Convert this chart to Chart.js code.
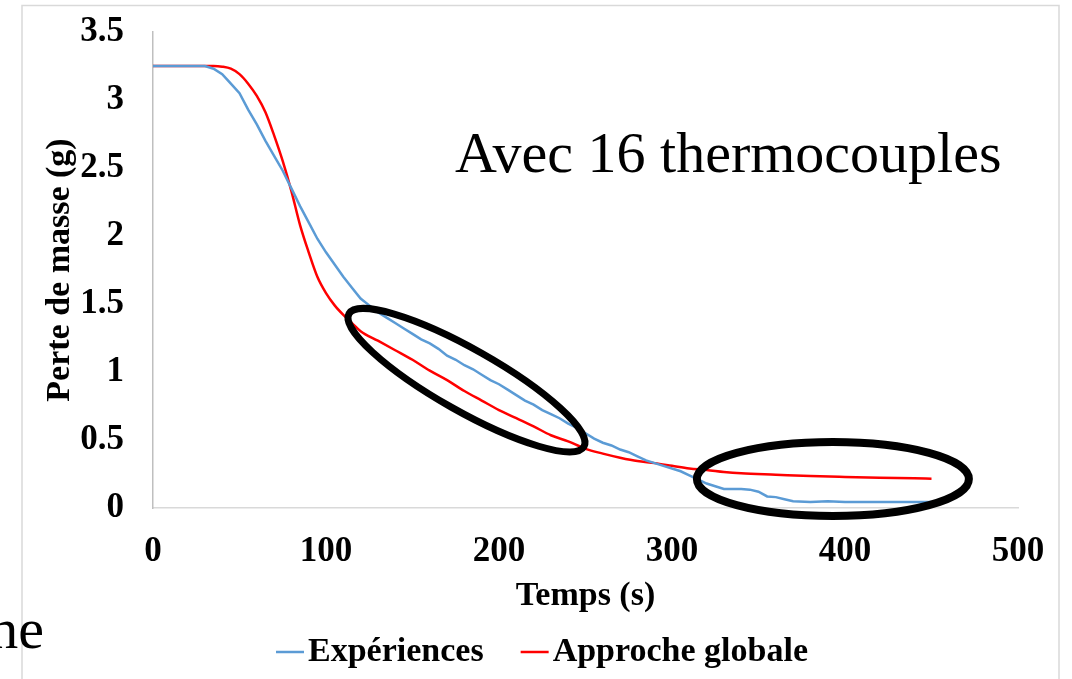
<!DOCTYPE html>
<html lang="fr">
<head>
<meta charset="utf-8">
<title>Perte de masse</title>
<script src="https://cdn.jsdelivr.net/npm/chart.js@4.4.1/dist/chart.umd.min.js"></script>
<style>
  html, body { margin: 0; padding: 0; background: #fff; }
  #wrap { position: relative; width: 1072px; height: 679px; }
</style>
</head>
<body>
<div id="wrap"><canvas id="lossChart"></canvas></div>
<script>
// Expériences : perte de masse mesurée (g) en fonction du temps (s)
const expTime = [0, 30, 35, 40, 45, 50, 55, 60, 65, 70, 75, 80, 85, 90, 95, 100, 105, 110, 115, 120,
  125, 130, 135, 140, 145, 150, 155, 160, 165, 170, 175, 180, 185, 190, 195, 200, 205, 210, 215, 220,
  225, 230, 235, 240, 245, 250, 255, 260, 265, 270, 275, 280, 285, 290, 295, 300, 305, 310, 315, 320,
  325, 330, 335, 340, 345, 350, 355, 360, 365, 370, 380, 390, 400, 420, 440, 450];
const expLoss = [3.25, 3.25, 3.23, 3.19, 3.12, 3.05, 2.93, 2.82, 2.70, 2.59, 2.48, 2.35, 2.22, 2.10, 1.98, 1.88, 1.79, 1.70, 1.62, 1.54,
  1.49, 1.44, 1.40, 1.36, 1.32, 1.28, 1.24, 1.21, 1.17, 1.12, 1.09, 1.05, 1.02, 0.98, 0.94, 0.91, 0.87, 0.83, 0.79, 0.76,
  0.72, 0.69, 0.66, 0.62, 0.59, 0.55, 0.51, 0.48, 0.46, 0.43, 0.41, 0.38, 0.35, 0.33, 0.31, 0.29, 0.27, 0.24, 0.21, 0.18,
  0.16, 0.14, 0.14, 0.14, 0.135, 0.12, 0.085, 0.08, 0.065, 0.05, 0.045, 0.05, 0.045, 0.045, 0.045, 0.045];

// Approche globale : perte de masse calculée
const modelTime = [0, 20, 35, 40, 45, 50, 55, 60, 65, 70, 75, 80, 85, 90, 95, 100, 105, 110, 115, 120,
  130, 140, 150, 160, 170, 180, 190, 200, 210, 220, 230, 240, 250, 260, 270, 280, 290, 300, 310, 320,
  330, 340, 360, 380, 400, 420, 440, 450];
const modelLoss = [3.25, 3.25, 3.25, 3.245, 3.23, 3.19, 3.12, 3.03, 2.91, 2.74, 2.55, 2.33, 2.08, 1.88, 1.70, 1.58, 1.49, 1.42, 1.36, 1.30,
  1.23, 1.16, 1.09, 1.01, 0.94, 0.86, 0.79, 0.72, 0.66, 0.60, 0.535, 0.49, 0.435, 0.40, 0.37, 0.345, 0.33, 0.31, 0.29, 0.28,
  0.265, 0.255, 0.245, 0.235, 0.228, 0.222, 0.218, 0.215];

const seriesLabels = ['Expériences', 'Approche globale'];
const seriesColors = ['#5b9bd5', '#ff0000'];

const serif = '"Liberation Serif", "Times New Roman", serif';

function toPoints(xs, ys) {
  return xs.map((x, i) => ({ x: x, y: ys[i] }));
}

// fond blanc + cadre gris clair autour du graphique
const framePlugin = {
  id: 'frame',
  beforeDraw(chart) {
    const ctx = chart.ctx;
    ctx.save();
    ctx.fillStyle = '#fff';
    ctx.fillRect(0, 0, chart.width, chart.height);
    ctx.strokeStyle = '#d9d9d9';
    ctx.lineWidth = 1.5;
    ctx.strokeRect(22, 5.5, 1037, 700);
    ctx.restore();
  }
};

// ellipses noires qui entourent les zones d'écart (centre en coordonnées des données)
const ellipsePlugin = {
  id: 'ellipses',
  afterDatasetsDraw(chart, args, opts) {
    const ctx = chart.ctx;
    const xs = chart.scales.x, ys = chart.scales.y;
    ctx.save();
    ctx.strokeStyle = '#000';
    opts.items.forEach(e => {
      ctx.lineWidth = e.width;
      ctx.beginPath();
      ctx.ellipse(xs.getPixelForValue(e.t), ys.getPixelForValue(e.v), e.rx, e.ry, e.angle * Math.PI / 180, 0, Math.PI * 2);
      ctx.stroke();
    });
    ctx.restore();
  }
};

// textes libres : titre dans le graphique et morceau de texte de la diapo
const notesPlugin = {
  id: 'notes',
  afterDraw(chart) {
    const ctx = chart.ctx;
    ctx.save();
    ctx.fillStyle = '#000';
    ctx.font = '58px ' + serif;
    ctx.textBaseline = 'alphabetic';
    ctx.textAlign = 'left';
    ctx.fillText('Avec 16 thermocouples', 455, 172);
    ctx.textAlign = 'right';
    ctx.fillText('ne', 44, 648);
    ctx.restore();
  }
};

// légende en bas, trait court collé au texte
const legendPlugin = {
  id: 'bottomLegend',
  afterDraw(chart) {
    const ctx = chart.ctx;
    const lineLen = 28, gap = 4, itemGap = 37, y = 652;
    ctx.save();
    ctx.font = 'bold 34px ' + serif;
    const items = chart.data.datasets.map(ds => ({ text: ds.label, color: ds.borderColor, w: ctx.measureText(ds.label).width }));
    const total = items.reduce((s, it) => s + lineLen + gap + it.w, 0) + itemGap * (items.length - 1);
    let x = 542 - total / 2;
    items.forEach(it => {
      ctx.strokeStyle = it.color;
      ctx.lineWidth = 2.5;
      ctx.beginPath();
      ctx.moveTo(x, y);
      ctx.lineTo(x + lineLen, y);
      ctx.stroke();
      x += lineLen + gap;
      ctx.fillStyle = '#000';
      ctx.textBaseline = 'middle';
      ctx.textAlign = 'left';
      ctx.fillText(it.text, x, y);
      x += it.w + itemGap;
    });
    ctx.restore();
  }
};

const ctx = document.getElementById('lossChart');

new Chart(ctx, {
  type: 'line',
  data: {
    datasets: [{
      label: seriesLabels[0],
      data: toPoints(expTime, expLoss),
      borderColor: seriesColors[0],
      borderWidth: 2.5,
      pointRadius: 0,
      tension: 0,
      fill: false
    },
    {
      label: seriesLabels[1],
      data: toPoints(modelTime, modelLoss),
      borderColor: seriesColors[1],
      borderWidth: 2.5,
      pointRadius: 0,
      cubicInterpolationMode: 'monotone',
      fill: false
    }]
  },
  options: {
    responsive: true,
    maintainAspectRatio: false,
    animation: false,
    layout: { padding: { top: 32, right: 54, bottom: 62, left: 0 } },
    scales: {
      x: {
        type: 'linear',
        min: 0,
        max: 500,
        grid: { display: false, drawTicks: false },
        border: { color: '#d9d9d9', width: 1.5 },
        ticks: {
          stepSize: 100,
          padding: 23,
          color: '#000',
          maxRotation: 0,
          font: { family: serif, size: 35, weight: 'bold' }
        },
        title: {
          display: true,
          text: 'Temps (s)',
          color: '#000',
          padding: { top: 0, bottom: 0 },
          font: { family: serif, size: 34, weight: 'bold' }
        },
        afterFit: s => { s.height = 109; }
      },
      y: {
        min: 0,
        max: 3.5,
        grid: { display: false, drawTicks: false },
        border: { color: '#bfbfbf', width: 1.5 },
        ticks: {
          stepSize: 0.5,
          padding: 29,
          color: '#000',
          font: { family: serif, size: 35, weight: 'bold' },
          callback: value => String(value)
        },
        title: {
          display: true,
          text: 'Perte de masse (g)',
          color: '#000',
          padding: { top: 40, bottom: 0 },
          font: { family: serif, size: 34, weight: 'bold' }
        },
        // largeur fixe, et pas de marge ajoutée en haut pour le libellé 3.5
        afterFit: s => { s.width = 153; s.paddingTop = 0; s.paddingBottom = 0; }
      }
    },
    plugins: {
      legend: { display: false },
      tooltip: { enabled: false },
      ellipses: {
        items: [
          { t: 181.2, v: 0.94, rx: 135, ry: 31, angle: 29.5, width: 7 },
          { t: 393, v: 0.213, rx: 136, ry: 37, angle: 0, width: 8 }
        ]
      }
    }
  },
  plugins: [framePlugin, ellipsePlugin, notesPlugin, legendPlugin]
});
</script>
</body>
</html>
